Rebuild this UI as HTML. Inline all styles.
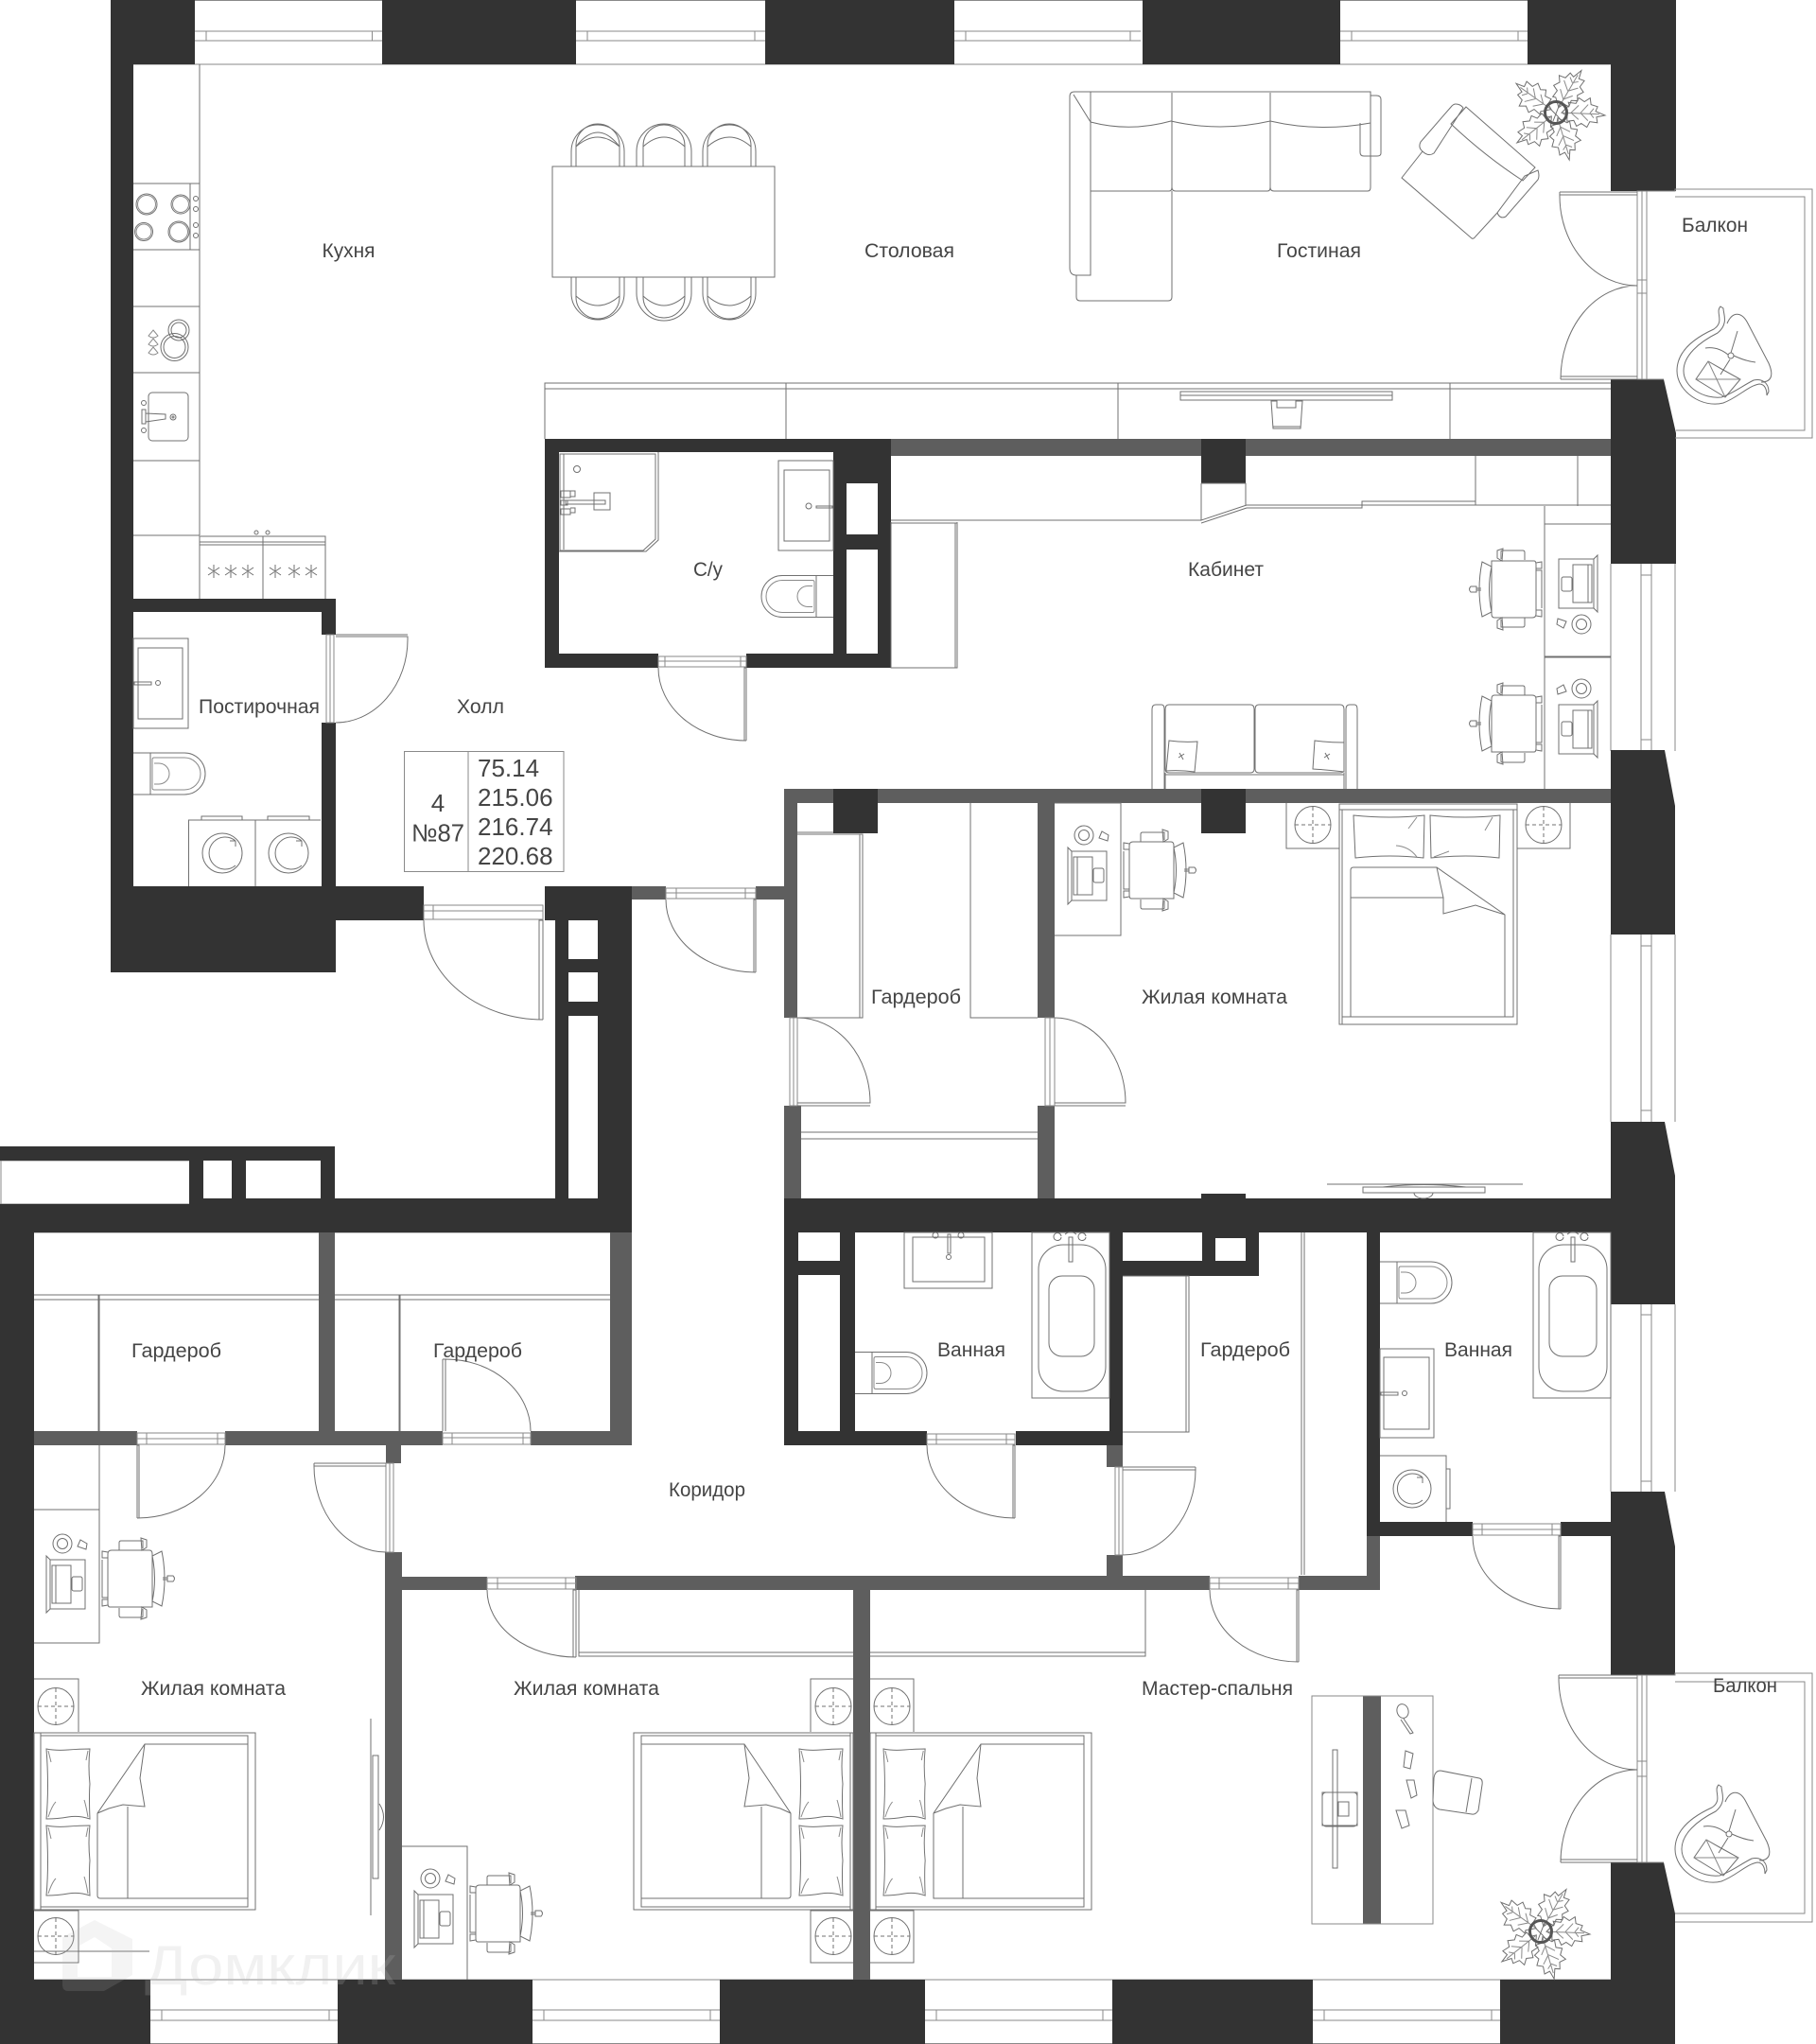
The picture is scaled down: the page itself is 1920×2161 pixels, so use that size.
<!DOCTYPE html>
<html lang="ru"><head><meta charset="utf-8"><title>План квартиры</title>
<style>html,body{margin:0;padding:0;background:#fff}svg{display:block}
text{font-family:"Liberation Sans","DejaVu Sans",sans-serif;fill:#454545;font-size:21px}
.l{fill:none;stroke:#707070;stroke-width:1}
.t{fill:none;stroke:#8a8a8a;stroke-width:1}
.f{fill:#fff;stroke:#707070;stroke-width:1}
.w{fill:#fff;stroke:#8a8a8a;stroke-width:1}
</style></head><body>
<svg xmlns="http://www.w3.org/2000/svg" width="1920" height="2161" viewBox="0 0 1920 2161">
<defs>
<g id="toilet"><path class="l" d="M0 -22H18V22H0"/><path class="l" d="M18 -22H54A22 22 0 0 1 54 22H18Z"/><path class="t" d="M22 -17H54A17 17 0 0 1 54 17H22Q20 17 20 15V-15Q20 -17 22 -17Z"/><path class="t" d="M22 -11H27A11 11 0 0 1 27 11H22"/></g>
<g id="ws">
<path class="f" d="M-23 -30H22Q24 -30 24 -26V26Q24 30 20 30H-20Q-23 30 -23 26Z"/>
<path class="l" d="M-23 -24Q-28 0 -23 24L-33 29Q-39 0 -33 -29Z"/>
<path class="l" d="M-13 -32V-40Q-13 -41 -11 -41H10Q12 -41 12 -39V-31M-13 32V40Q-13 40 -11 40H10Q12 40 12 38V30"/>
<path class="l" d="M-17 -41L-11 -43L-12 -30L-17 -33ZM-17 41L-11 43L-12 30L-17 33Z"/>
<path class="l" d="M-39 -3H-45Q-48 0 -45 3H-39ZM-39 -1H-34M-39 1H-34"/>
<path class="l" d="M24 -28L30 -29V-22H24M24 22H30V29L24 28M24 -20H30V20"/>
<rect class="l" x="48" y="-32" width="37" height="52"/><path class="l" d="M85 -32L89 -36V24L85 20"/>
<rect class="l" x="63" y="-26" width="16" height="40"/><path class="l" d="M79 -26H83V14H79"/>
<rect class="l" x="51" y="-13" width="11" height="15" rx="2"/>
<circle class="l" cx="72" cy="37" r="10"/><circle class="l" cx="72" cy="37" r="5.5"/>
<path class="l" d="M47 31L56 34L53 41L46 37Z"/>
</g>
<g id="nt"><ellipse class="l" cx="0" cy="0" rx="19" ry="19.5"/><path class="l" stroke-dasharray="4 3" d="M-19 0H19M0 -19V19"/></g>
<g id="pillowV"><path class="l" d="M0 0Q10 2 23 1T46 0Q44 18 46 37Q45 50 46 74Q34 70 23 72T0 74Q3 40 0 0Z"/><path class="t" d="M2 2L5 14M44 2L42 12M2 72Q6 60 10 56M44 72Q42 60 40 54"/></g>
<g id="leaf"><path class="l" d="M0 -6L-8 -14L-11 -13L-10 -21L-16 -24L-12 -30L-16 -36L-9 -37L-7 -44L-2 -42L2 -52L4 -43L10 -44L9 -36L15 -33L11 -27L14 -22L8 -19L9 -12L3 -12Z"/><path class="t" d="M0 -6L1 -46M0 -16L-8 -24M0 -16L7 -24M0 -26L-9 -34M0 -26L8 -34M0 -36L-5 -40M0 -36L5 -40"/></g>
<g id="plant"><use href="#leaf" transform="rotate(29)"/><use href="#leaf" transform="rotate(-56)"/><use href="#leaf" transform="rotate(91)"/><use href="#leaf" transform="rotate(162)"/><use href="#leaf" transform="rotate(-130)"/>
<circle cx="0" cy="0" r="11.5" fill="none" stroke="#555" stroke-width="3"/><path class="l" d="M-3 9L4 -9M-6 -4L2 4L6 9"/></g>
<g id="bchair"><path class="l" d="M1819 324C1813 330 1824 340 1812 348C1790 358 1773 372 1773 392C1773 414 1800 432 1822 426C1838 420 1848 408 1860 406C1866 406 1868 412 1868 418L1870 414C1870 404 1862 400 1854 402C1842 408 1832 416 1820 420C1802 422 1780 410 1780 392C1780 376 1796 362 1816 352C1828 342 1822 332 1822 326Z"/>
<path class="l" d="M1826 342C1832 328 1842 330 1848 342L1870 384C1876 398 1872 404 1862 404"/>
<path class="l" d="M1803 368Q1816 366 1827 375M1833 376Q1846 382 1856 383M1830 373L1837 350M1829 380L1819 396"/><circle class="l" cx="1830" cy="376" r="3"/>
<path class="l" d="M1806 382L1793 401L1824 420L1840 401L1820 390Z"/><path class="t" d="M1806 382L1824 420M1793 401L1840 401"/></g>
</defs>
<rect width="1920" height="2161" fill="#fff"/>

<!-- windows top / bottom -->
<g class="w">
<path class="t" d="M117 0.5H1772"/>
<path class="t" d="M206 33H404M206 43H404M218 33V43M393.500 33V43M609 33H809M609 43H809M621 33V43M798 33V43M1009 33H1206M1009 43H1206M1021 33V43M1195 33V43M1417 33H1615M1417 43H1615M1429 33V43M1605 33V43"/>
<path class="t" d="M159 2125H357M159 2136H357M171 2125V2136M348 2125V2136M563 2125H761M563 2136H761M575 2125V2136M751 2125V2136M978 2125H1176M978 2136H1176M990 2125V2136M1166 2125V2136M1388 2125H1586M1388 2136H1586M1400 2125V2136M1577 2125V2136M0 2160.5H1771"/>
<path class="t" d="M141 68H1703M36 2093H1703M36 1303H668"/>
<!-- side windows -->
<path class="t" d="M1771 596V794M1735 596V794M1746 596V794M1735 608H1746M1735 782H1746M1703 596V794"/>
<path class="t" d="M1771 988V1186M1735 988V1186M1746 988V1186M1735 1000H1746M1735 1174H1746M1703 988V1186"/>
<path class="t" d="M1771 1379V1577M1735 1379V1577M1746 1379V1577M1735 1390H1746M1735 1566H1746M1703 1379V1577"/>
<path class="t" d="M0 1227H200M0 1273H200M1 1227V1273"/>
</g>

<!-- walls gray -->
<path fill="#5e5e5e" d="M942 464H1270V482H942ZM1317 464H1703V482H1317ZM829 834H1703V849H829ZM829 849H843V1076H829ZM829 1169H847V1267H829ZM1097 849H1115V1076H1097ZM1097 1169H1115V1267H1097ZM668 937H704V951H668ZM799 937H829V951H799ZM424 1667H515V1681H424ZM608 1666H1279V1681H608ZM1373 1666H1459V1681H1373ZM1445 1624H1459V1666H1445ZM1170 1528H1187V1551H1170ZM1170 1644H1187V1667H1170ZM902 1681H920V2093H902ZM407 1641H425V2093H407ZM408 1528H424V1547H408ZM337 1303H354V1513H337ZM36 1513H145V1528H36ZM238 1513H468V1528H238ZM561 1513H668V1528H561ZM645 1303H668V1513H645Z"/>
<!-- walls dark -->
<path fill="#333" d="M117 0H206V68H141V937H117ZM117 633H355V647H117ZM340 647H355V671H340ZM340 764H355V937H340ZM117 937H448V973H355V1028H117ZM404 0H609V68H404ZM809 0H1009V68H809ZM1208 0H1417V68H1208ZM1615 0H1772V202H1703V68H1615ZM1703 401H1759L1772 458V596H1703ZM1703 793H1760L1771 852V988H1703ZM1703 1186H1760L1771 1243V1303H829V1267H1703ZM1703 1303H1771V1379H1703ZM1703 1577H1760L1771 1635V1771H1703ZM1703 1969H1759L1771 2023V2161H1586V2093H1703ZM1176 2093H1388V2161H1176ZM761 2093H978V2161H761ZM357 2093H563V2161H357ZM0 2093H159V2161H0ZM0 1303H36V2093H0ZM0 1273H200V1267H668V1303H0ZM0 1212H354V1227H0ZM200 1227H215V1267H200ZM245 1227H260V1267H245ZM339 1227H354V1267H339ZM587 1074H601V1267H587ZM632 973H668V1267H632ZM587 973H601V1014H587ZM587 1014H632V1028H587ZM587 1028H601V1059H587ZM587 1059H632V1074H587ZM576 937H668V973H576ZM576 464H942V478H576ZM576 478H591V691H576ZM576 691H696V706H576ZM789 691H942V706H789ZM881 478H942V511H881ZM881 511H895V691H881ZM928 511H942V691H928ZM895 565H928V581H895ZM1270 464H1317V511H1270ZM1270 834H1317V881H1270ZM881 834H928V881H881ZM1270 1262H1317V1267H1270ZM829 1303H844V1528H829ZM888 1303H904V1513H888ZM844 1333H888V1348H844ZM844 1513H980V1528H844ZM1074 1513H1187V1528H1074ZM1173 1303H1187V1513H1173ZM1187 1333H1331V1349H1187ZM1271 1303H1285V1333H1271ZM1317 1303H1331V1333H1317ZM1285 1303H1317V1309H1285ZM1445 1303H1459V1610H1445ZM1445 1609H1557V1624H1445ZM1650 1609H1703V1624H1650Z"/>
<rect x="1441" y="1793" width="19" height="241" fill="#5e5e5e"/>

<!-- door frames -->
<g class="l" fill="none">
<path class="t" d="M345 671H353V764H345V671ZM349 671V764M696 694H789V705H696ZM696 699H789M703 694V705M783 694V705M448 957H574V972H448ZM448 963H574M458 957V972M704 939H799V950H704ZM704 944H799M715 939V950M788 939V950M835 1076H843V1169H835ZM839 1076V1169M1105 1076H1115V1169H1105ZM1110 1076V1169M145 1515H238V1527H145ZM145 1521H238M155 1515V1527M230 1515V1527M468 1515H561V1527H468ZM468 1520H561M478 1515V1527M553 1515V1527M408 1547H416V1641H408ZM412 1547V1641M515 1668H609V1680H515ZM515 1674H609M526 1668V1680M598 1668V1680M980 1516H1073V1527H980ZM980 1522H1073M990 1516V1527M1064 1516V1527M1179 1551H1187V1644H1179ZM1183 1551V1644M1279 1668H1373V1680H1279ZM1279 1674H1373M1289 1668V1680M1362 1668V1680M1557 1611H1650V1623H1557ZM1557 1617H1650M1567 1611V1623M1641 1611V1623M1731 202H1741V401H1731ZM1736 202V401M1731 296H1741M1731 310H1741M1731 1771H1741V1969H1731ZM1736 1771V1969M1731 1862H1741M1731 1878H1741"/>
<path class="l" d="M1649 203H1731M1649 206H1731M1649 203V207M1649 207A82 95 0 0 0 1731 302M1650 401H1731M1650 398H1731M1650 401A81 99 0 0 1 1731 302M355 671H431M355 673H431V676A76 88 0 0 1 355 764M696 706A93 77 0 0 0 789 783H787V706H789V783M448 973A126 105 0 0 0 574 1078H570V973H574V1078M704 951A95 77 0 0 0 799 1028H797V951H799V1028M843 1169H920M843 1166H920A77 90 0 0 0 843 1076M1115 1169H1190M1115 1166H1190A75 90 0 0 0 1115 1076M238 1528A93 77 0 0 1 145 1605H147V1528H145V1605M468 1437V1513M471 1437V1513M468 1437H471A90 76 0 0 1 561 1513M332 1547H408M332 1550H408M332 1547V1550A76 91 0 0 0 408 1641M515 1681A94 71 0 0 0 609 1752H606V1681H609V1752M980 1528A93 77 0 0 0 1073 1605H1071V1528H1073V1605M1264 1551H1187M1264 1554H1187M1264 1551V1554A77 90 0 0 1 1187 1644M1279 1681A94 76 0 0 0 1373 1757H1371V1681H1373V1757M1557 1624A93 77 0 0 0 1650 1701H1648V1624H1650V1701M1648 1771H1731M1648 1774H1731M1648 1771V1774A83 97 0 0 0 1731 1871M1650 1969H1731M1650 1966H1731M1650 1969A81 98 0 0 1 1731 1871"/>
</g>

<!-- balconies -->
<path class="t" d="M1741 202H1771V200H1916V463H1771M1771 208H1908V455H1772M1741 401H1759"/>
<path class="t" d="M1741 1771H1771V1769H1916V2032H1771M1771 1778H1908V2023H1771M1741 1969H1759"/>
<use href="#bchair"/>
<use href="#bchair" transform="translate(-2 1563)"/>

<!-- kitchen -->
<g>
<path class="l" d="M211 68V566M141 194H211M141 264H211M141 324H211M141 394H211M141 487H211M141 566H211M201 194V264"/>
<circle class="l" cx="155" cy="216" r="11"/><circle class="t" cx="155" cy="216" r="9.500"/><circle class="l" cx="191" cy="216" r="10"/><circle class="t" cx="191" cy="216" r="8.500"/><circle class="l" cx="152" cy="245" r="9.500"/><circle class="t" cx="152" cy="245" r="8"/><circle class="l" cx="189" cy="245" r="11"/><circle class="t" cx="189" cy="245" r="9.500"/>
<circle class="l" cx="207" cy="210" r="2.500"/><circle class="l" cx="207" cy="221" r="2.500"/><circle class="l" cx="207" cy="238" r="2.500"/><circle class="l" cx="207" cy="249" r="2.500"/>
<circle class="l" cx="189" cy="349" r="11"/><circle class="l" cx="189" cy="349" r="8"/><circle class="l" cx="184.500" cy="367" r="14.500"/><circle class="l" cx="184.500" cy="367" r="11.500"/>
<path class="t" d="M162 349L167 355Q162 359 157 355ZM162 358L167 364Q162 368 157 364ZM162 367L167 373Q162 377 157 373Z"/>
<rect class="l" x="157" y="415" width="42" height="51" rx="4"/>
<path class="l" d="M150 433H154V448H150ZM154 437L175 438Q175 443 175 443L154 446"/><circle class="l" cx="152" cy="426" r="2.500"/><circle class="l" cx="152" cy="455" r="2.500"/><circle class="l" cx="183" cy="441" r="3"/><circle class="l" cx="183" cy="441" r="1"/>
<path class="l" d="M211 633V567H278V633M278 567H344V633M211 573H344M211 576H344"/>
<circle class="l" cx="271" cy="563" r="2"/><circle class="l" cx="283" cy="563" r="2"/>
<path class="l" d="M226 597V611M220 600L232 608M232 600L220 608M244 597V611M238 600L250 608M250 600L238 608M262 597V611M256 600L268 608M268 600L256 608M291 597V611M285 600L297 608M297 600L285 608M311 597V611M305 600L317 608M317 600L305 608M329 597V611M323 600L335 608M335 600L323 608"/>
</g>

<!-- dining -->
<g>
<path class="l" d="M604 176V160A28 28 0 0 1 660 160V176M609 176V154A23 23 0 0 1 655 154V176M609 155Q632 135 655 155M609 155Q632 125 655 155M673 176V160A28 28 0 0 1 731 160V176M680 176V154A22 22 0 0 1 724 154V176M680 155Q702 135 724 155M743 176V160A28 28 0 0 1 799 160V176M748 176V154A23 23 0 0 1 794 154V176M748 155Q771 135 794 155"/>
<path class="l" d="M604 293V310A28 28 0 0 0 660 310V293M609 293V314A23 23 0 0 0 655 314V293M609 313Q632 333 655 313M673 293V310A28 28 0 0 0 731 310V293M680 293V314A22 22 0 0 0 724 314V293M680 313Q702 333 724 313M743 293V310A28 28 0 0 0 799 310V293M748 293V314A23 23 0 0 0 794 314V293M748 313Q771 333 794 313"/>
<rect class="f" x="584" y="176" width="235" height="117"/>
</g>

<!-- sofa -->
<g>
<path class="l" d="M1131 102Q1131 97 1136 97H1449V130M1131 102V283Q1131 291 1138 291H1153V97M1135 100L1153 129Q1195 140 1238 128Q1290 140 1343 128Q1395 140 1449 130M1153 202H1236Q1239 202 1239 198V128M1239 198Q1239 202 1243 202H1340Q1343 202 1343 198V128M1343 198Q1343 202 1347 202H1446Q1449 202 1449 198V128M1239 98V128M1343 98V128M1138 291V314Q1138 318 1142 318H1235Q1239 318 1239 314V202M1449 101H1455Q1460 101 1460 105V162Q1460 165 1456 165H1442Q1438 165 1438 161V130"/>
<path class="l" d="M1539 110Q1544 110 1547 114L1516 162Q1510 166 1504 160Q1499 156 1502 150L1535 112Q1537 110 1539 110ZM1550 113L1623 177L1610 191Q1570 165 1534 131ZM1626 180Q1628 186 1626 190L1592 229Q1586 232 1583 225L1612 186ZM1504 160L1482 188L1556 252Q1558 253 1560 250L1583 225"/>
<use href="#plant" x="1645" y="119"/>
</g>

<!-- media wall -->
<path class="l" d="M576 464V405H1703M576 411H1703M831 405V464M1182 405V464M1533 405V464"/>
<path class="l" d="M1248 414H1472V423H1248ZM1248 418H1472"/>
<path class="l" d="M1344 424L1346 453H1375L1377 424H1370V431H1350V424ZM1350 431V424M1346 451H1375"/>

<!-- WC -->
<g>
<path class="l" d="M592 480H693V570L680 582H592ZM596 480V581M696 478V571L683 583H591"/><circle class="l" cx="610" cy="496" r="3.500"/>
<path class="l" d="M628 521H645V539H628ZM598 529H640V533H598ZM593 519H603V526H593ZM593 538H603V544H593ZM593 529H600V534H593ZM603 519H608V525H603ZM603 537H608V542H603"/>
<rect class="l" x="823" y="487" width="58" height="95"/><rect class="l" x="829" y="497" width="48" height="75"/>
<path class="l" d="M863 535H880V537H863ZM881 520V525M881 545V550"/><circle class="l" cx="855" cy="535" r="3"/>
<use href="#toilet" transform="translate(881 630.500) scale(-1 1)"/>
<path class="l" d="M942 552V706H1012V552M942 550H1270M942 553H1012M1010 553V706M1270 511V550L1318 534M1270 553L1318 537M1270 511H1317V534M1318 534H1560M1318 537H1440V530H1560V534M1560 482V534H1703M1668 482V535"/>
<path class="l" d="M1633 535V834M1633 554H1703M1633 694H1703M1633 695H1703"/>
<use href="#ws" x="1600" y="623"/>
<use href="#ws" transform="translate(1600 765) scale(1 -1)"/>
<path class="l" d="M1218 834V750Q1218 745 1222 745H1228Q1231 745 1231 750V834M1423 834V750Q1423 745 1427 745H1432Q1435 745 1435 750V834M1232 750Q1232 745 1236 745H1322Q1326 745 1326 750V813Q1326 817 1322 817H1236Q1232 817 1232 813ZM1327 750Q1327 745 1331 745H1417Q1421 745 1421 750V813Q1421 817 1417 817H1331Q1327 817 1327 813ZM1232 817V834M1421 817V834M1232 819H1421"/>
<path class="f" d="M1236 783Q1250 785 1266 784L1263 816Q1248 814 1233 815Z"/><path class="f" d="M1390 783Q1405 785 1421 785V816Q1405 814 1388 813Z"/>
<path class="l" d="M1246 801L1252 797M1247 796L1251 803M1400 801L1406 797M1401 796L1405 803"/>
</g>

<!-- laundry -->
<g>
<rect class="l" x="141" y="675" width="58" height="95"/><rect class="l" x="146" y="685" width="47" height="75"/>
<path class="l" d="M142 721H160V724H142ZM141 708V714M141 733V739"/><circle class="l" cx="167" cy="722" r="2.500"/>
<use href="#toilet" x="141" y="818"/>
<path class="l" d="M199.500 937V867H339M270 867V937M213 867V863H256V867M283 867V863H327V867"/>
<circle class="l" cx="235" cy="902" r="21"/><path class="l" d="M249 889A17 17 0 1 0 249 915M249 889V895M249 889H243"/>
<circle class="l" cx="305" cy="902" r="21"/><path class="l" d="M319 889A17 17 0 1 0 319 915M319 889V895M319 889H313"/>
</g>

<!-- info table -->
<rect class="t" x="427.500" y="794.500" width="168.500" height="127"/><path class="t" d="M495 794.500V921.500"/>
<text x="505" y="821" style="font-size:26px">75.14</text>
<text x="505" y="852" style="font-size:26px">215.06</text>
<text x="505" y="883" style="font-size:26px">216.74</text>
<text x="505" y="914" style="font-size:26px">220.68</text>
<text x="463" y="858" text-anchor="middle" style="font-size:26px">4</text>
<text x="463" y="889.500" text-anchor="middle" style="font-size:26px" textLength="56" lengthAdjust="spacingAndGlyphs">№87</text>

<!-- top bedroom / wardrobe -->
<g>
<path class="l" d="M843 882H912V1076H843M909 882V1076M1026 849V1076H1097M843 880H881M847 1197H1097M847 1204H1097"/>
<path class="l" d="M1115 849H1185V989H1115"/>
<use href="#ws" transform="translate(1218 920) scale(-1 -1)"/>
<path class="l" d="M1360 849V897H1416M1604 897H1660V849"/>
<use href="#nt" x="1388" y="872"/><use href="#nt" x="1632" y="872"/>
<rect class="l" x="1416" y="850" width="188" height="233"/><path class="l" d="M1419 1083V856H1600V1075H1419M1416 856H1604"/>
<path class="l" d="M1431 862Q1470 866 1506 862L1505 907Q1470 903 1433 907ZM1512 862Q1550 866 1586 862L1585 907Q1550 903 1513 907Z"/>
<path class="t" d="M1498 864L1489 876M1476 894Q1490 895 1498 906M1578 864L1570 878M1532 900L1516 906"/>
<path class="l" d="M1428 1075V920Q1428 917 1431 917H1519L1591 967V1075M1428 949H1526M1519 917L1526 949V966L1560 957L1575 962L1591 967"/>
<path class="l" d="M1403 1252H1610"/><rect class="l" x="1441" y="1255" width="129" height="6"/><path class="l" d="M1462 1255Q1505 1250 1550 1255M1495 1261A10 6 0 0 0 1515 1261"/>
</g>

<!-- left wardrobes -->
<path class="l" d="M36 1369H337M36 1374H337M354 1369H645M354 1374H645M105 1369V1513M422 1369V1513M104 1369V1513M423 1369V1513M105 1528V1737H36M36 1596H105"/>

<!-- bathroom 1 -->
<g>
<rect class="l" x="956" y="1303" width="93" height="59"/><rect class="l" x="965" y="1308" width="76" height="47"/>
<path class="l" d="M1002 1305H1005V1325H1002Z"/><circle class="l" cx="1003" cy="1329" r="2.500"/><circle class="l" cx="989" cy="1306" r="3"/><circle class="l" cx="1016" cy="1306" r="3"/>
<rect class="l" x="1091" y="1303" width="82" height="175"/>
<rect class="l" x="1098" y="1316" width="71" height="155" rx="26"/><rect class="l" x="1109" y="1349" width="48" height="85" rx="14"/>
<path class="l" d="M1130 1308V1334H1134V1308ZM1122 1307A4 4 0 1 0 1122 1308M1148 1307A4 4 0 1 0 1148 1308M1126 1305Q1132 1300 1138 1305"/>
<use href="#toilet" x="904" y="1451.500"/>
<path class="l" d="M1187 1349H1257V1514H1187M1254 1349V1514M1376 1303V1665M1379 1303V1665"/>
<rect class="l" x="1621" y="1303" width="82" height="175"/>
<rect class="l" x="1627" y="1316" width="72" height="155" rx="26"/><rect class="l" x="1638" y="1349" width="50" height="85" rx="14"/>
<path class="l" d="M1661 1308V1334H1665V1308ZM1653 1307A4 4 0 1 0 1653 1308M1679 1307A4 4 0 1 0 1679 1308M1657 1305Q1663 1300 1669 1305"/>
<use href="#toilet" x="1459" y="1356"/>
<rect class="l" x="1459" y="1426" width="57" height="94"/><rect class="l" x="1463" y="1435" width="48" height="76"/>
<path class="l" d="M1460 1472H1478V1475H1460ZM1459 1458V1464M1459 1483V1489"/><circle class="l" cx="1485" cy="1473" r="2.500"/>
<path class="l" d="M1459 1539H1529V1609M1529 1553H1533V1595H1529"/><circle class="l" cx="1493" cy="1574" r="20"/><path class="l" d="M1504 1562A16 16 0 1 0 1504 1586M1504 1562V1568M1504 1562H1498"/>
</g>

<!-- lower bedrooms -->
<g>
<path class="l" d="M612 1681V1751H902M920 1751H1211V1681M612 1747H902M920 1747H1211M609 1681V1752"/>
<use href="#ws" transform="translate(138 1669) scale(-1 -1)"/>
<use href="#ws" transform="translate(527 2023) scale(-1 -1)"/>
<!-- bed 1 -->
<path class="l" d="M36 1775H83V1831M36 2020H83V2075H36"/><use href="#nt" x="59" y="1804"/><use href="#nt" x="59" y="2047"/>
<rect class="l" x="36" y="1832" width="234" height="187"/><path class="l" d="M43 1832V2019M43 1835H262V2016H43"/>
<use href="#pillowV" x="49" y="1849"/><use href="#pillowV" x="49" y="1930"/>
<path class="l" d="M262 1844H153L103 1917V2004Q103 2007 106 2007H262M153 1844L148 1880L153 1910L130 1908L115 1912L103 1917M135 1910V2007"/>
<path class="l" d="M392 1817V2025"/><rect class="l" x="394" y="1856" width="6" height="130"/><path class="l" d="M401 1907Q410 1921 401 1935"/>
<path class="l" d="M36 2063H158" stroke="#555"/>
<!-- desk middle -->
<path class="l" d="M425 1952H494V2093"/>
<!-- bed 2 -->
<path class="l" d="M902 1775H857V1831M902 2020H857V2075H902"/><use href="#nt" x="881" y="1804"/><use href="#nt" x="881" y="2047"/>
<rect class="l" x="670" y="1832" width="232" height="187"/><path class="l" d="M899 1832V2019M899 1835H678V2016H899"/>
<use href="#pillowV" x="845" y="1849"/><use href="#pillowV" x="845" y="1930"/>
<path class="l" d="M678 1844H787L836 1917V2004Q836 2007 833 2007H678M787 1844L792 1880L787 1910L810 1908L825 1912L836 1917M805 1910V2007"/>
<!-- bed 3 -->
<path class="l" d="M920 1775H966V1831M920 2020H966V2075H920"/><use href="#nt" x="943" y="1804"/><use href="#nt" x="943" y="2047"/>
<rect class="l" x="920" y="1832" width="234" height="187"/><path class="l" d="M926 1832V2019M926 1835H1146V2016H926"/>
<g transform="translate(934 1849) scale(.96 1)"><use href="#pillowV"/></g><g transform="translate(934 1930) scale(.96 1)"><use href="#pillowV"/></g>
<path class="l" d="M1146 1844H1037L987 1917V2007H1146M1037 1844L1033 1880L1037 1910L1015 1908L1000 1912L987 1917M1018 1910V2007"/>
<!-- master desk -->
<rect class="t" x="1387" y="1793" width="128" height="241"/>
<path class="l" d="M1409 1850H1414V1975H1409ZM1398 1895H1435V1930H1398ZM1415 1905H1426V1920H1415Z"/><rect class="l" x="1398" y="1895" width="37" height="36" rx="4"/>
<ellipse class="l" cx="1483" cy="1809" rx="6" ry="7.500" transform="rotate(-15 1483 1809)"/><path class="l" d="M1484 1817L1494 1832L1491 1833L1481 1818"/>
<path class="l" d="M1486 1851L1494 1854L1491 1870L1484 1868ZM1487 1882L1495 1882L1498 1898L1492 1901ZM1476 1914L1486 1914L1490 1930L1482 1933Z"/>
<path class="l" d="M1523 1872L1564 1880Q1568 1881 1567 1887L1563 1914Q1560 1919 1556 1918L1522 1913Q1515 1911 1515 1903L1516 1880Q1517 1872 1523 1872ZM1556 1880L1550 1916"/>
<use href="#plant" x="1629" y="2042"/>
</g>

<!-- watermark -->
<g fill="#bdbdbd" opacity=".16"><path d="M66 2048L100 2030L140 2050V2088L110 2105H72Q66 2105 66 2098ZM82 2058V2090H118V2060L100 2048Z"/></g>
<text x="153" y="2098" style="font-size:58px;fill:#bdbdbd;opacity:.2" textLength="265" lengthAdjust="spacingAndGlyphs">Домклик</text>

<!-- labels -->
<text x="368.500" y="272" text-anchor="middle" textLength="56" lengthAdjust="spacingAndGlyphs">Кухня</text>
<text x="961.500" y="272" text-anchor="middle" textLength="95" lengthAdjust="spacingAndGlyphs">Столовая</text>
<text x="1394.500" y="272" text-anchor="middle" textLength="89" lengthAdjust="spacingAndGlyphs">Гостиная</text>
<text x="1813" y="245" text-anchor="middle" textLength="70" lengthAdjust="spacingAndGlyphs">Балкон</text>
<text x="748.500" y="609" text-anchor="middle" textLength="31" lengthAdjust="spacingAndGlyphs">С/у</text>
<text x="1296" y="609" text-anchor="middle" textLength="80" lengthAdjust="spacingAndGlyphs">Кабинет</text>
<text x="274" y="754" text-anchor="middle" textLength="128" lengthAdjust="spacingAndGlyphs">Постирочная</text>
<text x="508" y="754" text-anchor="middle" textLength="50" lengthAdjust="spacingAndGlyphs">Холл</text>
<text x="968.500" y="1061" text-anchor="middle" textLength="95" lengthAdjust="spacingAndGlyphs">Гардероб</text>
<text x="1284" y="1061" text-anchor="middle" textLength="154" lengthAdjust="spacingAndGlyphs">Жилая комната</text>
<text x="186.500" y="1435" text-anchor="middle" textLength="95" lengthAdjust="spacingAndGlyphs">Гардероб</text>
<text x="505" y="1435" text-anchor="middle" textLength="94" lengthAdjust="spacingAndGlyphs">Гардероб</text>
<text x="747.500" y="1582" text-anchor="middle" textLength="81" lengthAdjust="spacingAndGlyphs">Коридор</text>
<text x="1027" y="1434" text-anchor="middle" textLength="72" lengthAdjust="spacingAndGlyphs">Ванная</text>
<text x="1316.500" y="1434" text-anchor="middle" textLength="95" lengthAdjust="spacingAndGlyphs">Гардероб</text>
<text x="1563" y="1434" text-anchor="middle" textLength="72" lengthAdjust="spacingAndGlyphs">Ванная</text>
<text x="225.500" y="1792" text-anchor="middle" textLength="153" lengthAdjust="spacingAndGlyphs">Жилая комната</text>
<text x="620" y="1792" text-anchor="middle" textLength="154" lengthAdjust="spacingAndGlyphs">Жилая комната</text>
<text x="1287" y="1792" text-anchor="middle" textLength="160" lengthAdjust="spacingAndGlyphs">Мастер-спальня</text>
<text x="1845" y="1789" text-anchor="middle" textLength="68" lengthAdjust="spacingAndGlyphs">Балкон</text>
</svg>
</body></html>
